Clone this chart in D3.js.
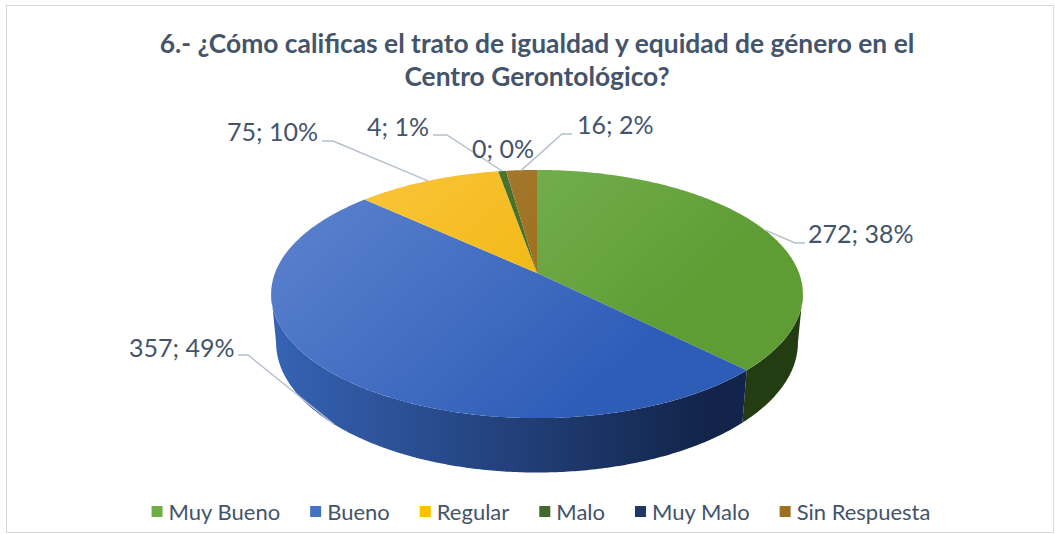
<!DOCTYPE html>
<html>
<head>
<meta charset="utf-8">
<script src="https://cdn.jsdelivr.net/npm/d3@7"></script>
<style>
  body { margin: 0; background: #fff; }
  svg { display: block; font-family: Lato, "Open Sans", sans-serif; }
</style>
</head>
<body>
<svg id="chart" width="1055" height="534"></svg>
<script>
// data
const categories = ["Muy Bueno", "Bueno", "Regular", "Malo", "Muy Malo", "Sin Respuesta"];
const values = [272, 357, 75, 4, 0, 16];
const titleLines = ["6.- ¿Cómo calificas el trato de igualdad y equidad de género en el", "Centro Gerontológico?"];

// colours per slice: legend, top face (light, dark), side wall (light, dark)
const legendColors = ["#70ad47", "#4472c4", "#ffc000", "#43682b", "#203864", "#9e7020"];
const topColors = [["#80b95e", "#5f9c34"], ["#5b81cd", "#2e5db8"], ["#fbc63f", "#edb200"],
                   ["#4f7b36", "#3c6324"], ["#2a4679", "#1b3058"], ["#a98041", "#976808"]];
const sideColors = [["#30501a", "#233c11"], ["#3663b5", "#12244a"], ["#b88c00", "#7a5c00"],
                    ["#2f4a1f", "#22381a"], ["#1c3158", "#101d36"], ["#78540e", "#5a3f0a"]];

// label boxes: text left / baseline, leader start and elbow; anchor level 0 = top rim, 1 = bottom rim
const labelLayout = [
  {tx: 808, ty: 243, lx: 805, ly: 243, ex: 795, level: 0, line: true},
  {tx: 129, ty: 357, lx: 238, ly: 355, ex: 248, level: 1, line: true},
  {tx: 227, ty: 141, lx: 322, ly: 141, ex: 333, level: 0, line: true},
  {tx: 367, ty: 136, lx: 433, ly: 135, ex: 447, level: 0, line: true},
  {tx: 472, ty: 158, lx: 0, ly: 0, ex: 0, level: 0, line: false},
  {tx: 577, ty: 134, lx: 572, ly: 134, ex: 562, level: 0, line: true}
];

const W = 1055, H = 534;
const svg = d3.select("#chart");
const defs = svg.append("defs");

// simple perspective camera for the pie disc (radius 1)
const cam = {cx: 537, cy: 273, f: 1373, D: 5.24, phi: Math.asin(0.46), h: 0.21};
function rimPoint(a, level) {
  const X = Math.sin(a), Z = Math.cos(a), Y = -level * cam.h;
  const yc = Y * Math.cos(cam.phi) + Z * Math.sin(cam.phi);
  const d = cam.D + Z * Math.cos(cam.phi) - Y * Math.sin(cam.phi);
  return [cam.cx + cam.f * X / d, cam.cy - cam.f * yc / d];
}
function arcPoints(a0, a1, level) {
  const n = Math.max(2, Math.ceil((a1 - a0) / 0.01));
  return d3.range(n + 1).map(i => rimPoint(a0 + (a1 - a0) * i / n, level));
}

svg.append("rect").attr("x", 6.5).attr("y", 5.5).attr("width", W - 8).attr("height", H - 7)
  .attr("fill", "#fff").attr("stroke", "#d9d9d9").attr("stroke-width", 1);

const total = d3.sum(values);
const pct = d3.format(".0%");
const arcs = d3.pie().sort(null).value(d => d).startAngle(0).endAngle(2 * Math.PI)(values);

categories.forEach((c, i) => {
  const gt = defs.append("linearGradient").attr("id", "top" + i)
    .attr("gradientUnits", "userSpaceOnUse").attr("x1", 330).attr("y1", 170).attr("x2", 560).attr("y2", 420);
  gt.append("stop").attr("offset", 0).attr("stop-color", topColors[i][0]);
  gt.append("stop").attr("offset", 1).attr("stop-color", topColors[i][1]);
  const gs = defs.append("linearGradient").attr("id", "side" + i)
    .attr("gradientUnits", "userSpaceOnUse").attr("x1", 272).attr("y1", 0).attr("x2", 801).attr("y2", 0);
  gs.append("stop").attr("offset", 0).attr("stop-color", sideColors[i][0]);
  gs.append("stop").attr("offset", 0.82).attr("stop-color", sideColors[i][1]);
  gs.append("stop").attr("offset", 1).attr("stop-color", sideColors[i][1]);
});

// front wall, only where it faces the camera (a bit wider to hide the silhouette seam)
const visA = Math.acos(-1 / (cam.D * Math.cos(cam.phi))) - 0.05;
const visB = 2 * Math.PI - visA;
const pieG = svg.append("g");
arcs.forEach((a, i) => {
  const lo = Math.max(a.startAngle, visA), hi = Math.min(a.endAngle, visB);
  if (hi <= lo) return;
  const pts = arcPoints(lo, hi, 0).concat(arcPoints(lo, hi, 1).reverse());
  pieG.append("path").attr("d", d3.line()(pts) + "Z").attr("fill", `url(#side${i})`);
});
arcs.forEach((a, i) => {
  if (a.endAngle - a.startAngle <= 0) return;
  const pts = [[cam.cx, cam.cy]].concat(arcPoints(a.startAngle, a.endAngle, 0));
  pieG.append("path").attr("d", d3.line()(pts) + "Z").attr("fill", `url(#top${i})`);
});

// data labels with leader lines
const labG = svg.append("g");
arcs.forEach((a, i) => {
  const L = labelLayout[i];
  if (L.line) {
    const mid = (a.startAngle + a.endAngle) / 2;
    const p = rimPoint(mid, L.level);
    labG.append("path")
      .attr("d", d3.line()([[L.lx, L.ly], [L.ex, L.ly], p]))
      .attr("fill", "none").attr("stroke", "#b4bfcf").attr("stroke-width", 1.4);
  }
  labG.append("text").attr("x", L.tx).attr("y", L.ty)
    .attr("font-size", 25).attr("fill", "#44546a")
    .text(`${values[i]}; ${pct(values[i] / total)}`);
});

// title, scaled so the first line spans the same width as the original
const title = svg.append("g").attr("font-weight", "bold").attr("fill", "#44546a").attr("text-anchor", "middle");
const t1 = title.append("text").attr("x", 537).attr("y", 53).attr("font-size", 24).text(titleLines[0]);
const fs = 24 * 755 / t1.node().getComputedTextLength();
t1.attr("font-size", fs);
title.append("text").attr("x", 537).attr("y", 86).attr("font-size", fs).text(titleLines[1]);

// legend
const leg = svg.append("g");
let lx = 0;
categories.forEach((c, i) => {
  const g = leg.append("g").attr("transform", `translate(${lx},0)`);
  g.append("rect").attr("x", 0).attr("y", -6).attr("width", 11).attr("height", 11).attr("fill", legendColors[i]);
  const t = g.append("text").attr("x", 17).attr("y", 7.5).attr("font-size", 22).attr("fill", "#44546a").text(c);
  lx += 17 + t.node().getComputedTextLength() + 30;
});
lx -= 30;
leg.attr("transform", `translate(${541 - lx / 2},512)`);
</script>
</body>
</html>
